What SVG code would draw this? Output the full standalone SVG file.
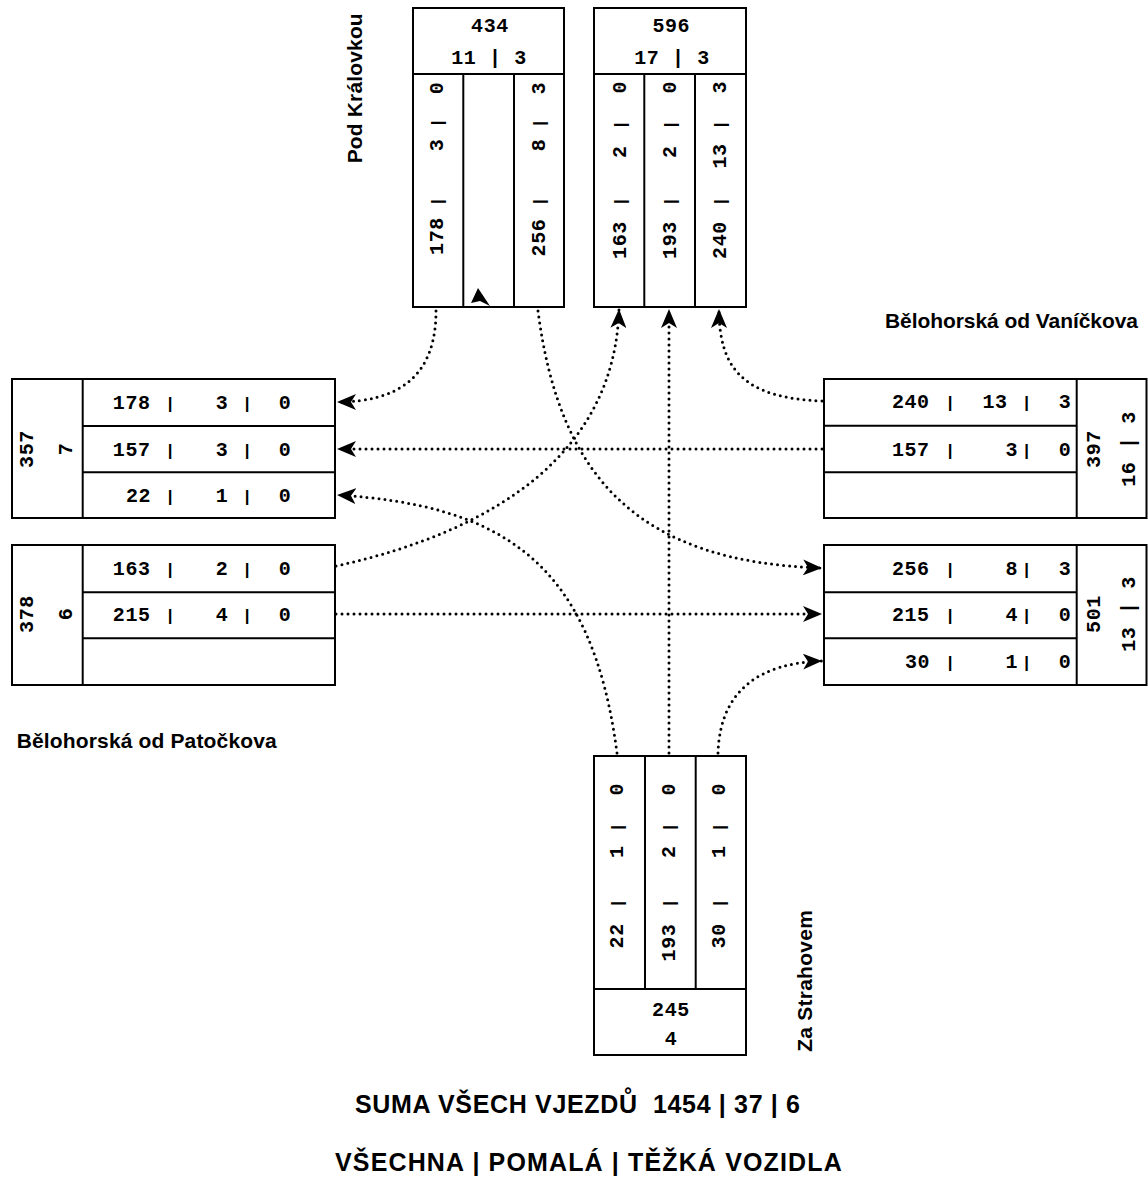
<svg xmlns="http://www.w3.org/2000/svg" width="1148" height="1188" viewBox="0 0 1148 1188">
<style>
.box{fill:#fff;stroke:#000;stroke-width:2}
.ln{stroke:#000;stroke-width:2;fill:none}
.n{font-family:"Liberation Mono","DejaVu Sans Mono",monospace;font-weight:bold;font-size:20px;letter-spacing:0.6px;text-anchor:middle;fill:#000}
.p{font-family:"Liberation Mono","DejaVu Sans Mono",monospace;font-weight:bold;font-size:17px;text-anchor:middle;fill:#000}
.lbl{font-family:"Liberation Sans",Arial,sans-serif;font-weight:bold;font-size:21px;fill:#000}
.big{font-size:25px}
.c{fill:none;stroke:#000;stroke-width:3;stroke-dasharray:0 6;stroke-linecap:round}
</style>
<defs>
<marker id="ah" viewBox="0 -8 19 16" refX="19" refY="0" markerWidth="19" markerHeight="16" markerUnits="userSpaceOnUse" orient="auto">
<path d="M0,-8 L19,0 L0,8 L5,0 Z" fill="#000"/>
</marker>
</defs>
<rect width="1148" height="1188" fill="#fff"/>

<g id="north-left">
<rect class="box" x="413" y="8" width="151" height="299"/>
<path class="ln" d="M413,74 H564 M463.3,74 V307 M514,74 V307"/>
<text class="n" x="490" y="32">434</text>
<text class="n" x="489" y="63.5">11 | 3</text>
<text class="n" transform="translate(436.7,236) rotate(-90)" y="6.5">178</text>
<text class="p" transform="translate(436.7,201.7) rotate(-90)" y="6.5">|</text>
<text class="n" transform="translate(436.7,145) rotate(-90)" y="6.5">3</text>
<text class="p" transform="translate(436.7,123) rotate(-90)" y="6.5">|</text>
<text class="n" transform="translate(436.7,88) rotate(-90)" y="6.5">0</text>
<text class="n" transform="translate(538.3,237.5) rotate(-90)" y="6.5">256</text>
<text class="p" transform="translate(538.3,201.7) rotate(-90)" y="6.5">|</text>
<text class="n" transform="translate(538.3,145) rotate(-90)" y="6.5">8</text>
<text class="p" transform="translate(538.3,123.3) rotate(-90)" y="6.5">|</text>
<text class="n" transform="translate(538.3,88.3) rotate(-90)" y="6.5">3</text>
</g>

<g id="north-right">
<rect class="box" x="594" y="8" width="152" height="299"/>
<path class="ln" d="M594,74 H746 M644.3,74 V307 M695,74 V307"/>
<text class="n" x="671.3" y="32">596</text>
<text class="n" x="672" y="64">17 | 3</text>
<text class="n" transform="translate(619.3,240) rotate(-90)" y="6.5">163</text>
<text class="p" transform="translate(619.3,201.7) rotate(-90)" y="6.5">|</text>
<text class="n" transform="translate(619.3,151.7) rotate(-90)" y="6.5">2</text>
<text class="p" transform="translate(619.3,125) rotate(-90)" y="6.5">|</text>
<text class="n" transform="translate(619.3,87.3) rotate(-90)" y="6.5">0</text>
<text class="n" transform="translate(669.3,240) rotate(-90)" y="6.5">193</text>
<text class="p" transform="translate(669.3,201.7) rotate(-90)" y="6.5">|</text>
<text class="n" transform="translate(669.3,151.7) rotate(-90)" y="6.5">2</text>
<text class="p" transform="translate(669.3,125) rotate(-90)" y="6.5">|</text>
<text class="n" transform="translate(669.3,87.3) rotate(-90)" y="6.5">0</text>
<text class="n" transform="translate(719.3,240) rotate(-90)" y="6.5">240</text>
<text class="p" transform="translate(719.3,201.7) rotate(-90)" y="6.5">|</text>
<text class="n" transform="translate(719.3,156) rotate(-90)" y="6.5">13</text>
<text class="p" transform="translate(719.3,125) rotate(-90)" y="6.5">|</text>
<text class="n" transform="translate(719.3,87.3) rotate(-90)" y="6.5">3</text>
</g>

<g id="west-upper">
<rect class="box" x="12" y="379" width="323" height="139"/>
<path class="ln" d="M82.7,379 V518 M82.7,426 H335 M82.7,472.3 H335"/>
<text class="n" transform="translate(26.7,449) rotate(-90)" y="6.5">357</text>
<text class="n" transform="translate(65,449) rotate(-90)" y="6.5">7</text>
<text class="n" x="131.7" y="408.8">178</text><text class="p" x="170" y="408.8">|</text><text class="n" x="222" y="408.8">3</text><text class="p" x="247" y="408.8">|</text><text class="n" x="285" y="408.8">0</text>
<text class="n" x="131.7" y="455.5">157</text><text class="p" x="170" y="455.5">|</text><text class="n" x="222" y="455.5">3</text><text class="p" x="247" y="455.5">|</text><text class="n" x="285" y="455.5">0</text>
<text class="n" x="138.5" y="501.5">22</text><text class="p" x="170" y="501.5">|</text><text class="n" x="222" y="501.5">1</text><text class="p" x="247" y="501.5">|</text><text class="n" x="285" y="501.5">0</text>
</g>

<g id="west-lower">
<rect class="box" x="12" y="545" width="323" height="140"/>
<path class="ln" d="M82.7,545 V685 M82.7,592.3 H335 M82.7,638.3 H335"/>
<text class="n" transform="translate(26.7,614) rotate(-90)" y="6.5">378</text>
<text class="n" transform="translate(65,614) rotate(-90)" y="6.5">6</text>
<text class="n" x="131.7" y="574.8">163</text><text class="p" x="170" y="574.8">|</text><text class="n" x="222" y="574.8">2</text><text class="p" x="247" y="574.8">|</text><text class="n" x="285" y="574.8">0</text>
<text class="n" x="131.7" y="620.8">215</text><text class="p" x="170" y="620.8">|</text><text class="n" x="222" y="620.8">4</text><text class="p" x="247" y="620.8">|</text><text class="n" x="285" y="620.8">0</text>
</g>

<g id="east-upper">
<rect class="box" x="824" y="379" width="322.5" height="139"/>
<path class="ln" d="M1076.7,379 V518 M824,425.7 H1076.7 M824,472.3 H1076.7"/>
<text class="n" x="910.8" y="408.2">240</text><text class="p" x="950" y="408.2">|</text><text class="n" x="995" y="408.2">13</text><text class="p" x="1026.7" y="408.2">|</text><text class="n" x="1065" y="408.2">3</text>
<text class="n" x="910.8" y="455.5">157</text><text class="p" x="950" y="455.5">|</text><text class="n" x="1011.7" y="455.5">3</text><text class="p" x="1026.7" y="455.5">|</text><text class="n" x="1065" y="455.5">0</text>
<text class="n" transform="translate(1093.3,449) rotate(-90)" y="6.5">397</text>
<text class="n" transform="translate(1128.3,449) rotate(-90)" y="6.5">16 | 3</text>
</g>

<g id="east-lower">
<rect class="box" x="824" y="545" width="322.5" height="140"/>
<path class="ln" d="M1076.7,545 V685 M824,592.3 H1076.7 M824,638.3 H1076.7"/>
<text class="n" x="910.8" y="574.8">256</text><text class="p" x="950" y="574.8">|</text><text class="n" x="1011.7" y="574.8">8</text><text class="p" x="1026.7" y="574.8">|</text><text class="n" x="1065" y="574.8">3</text>
<text class="n" x="910.8" y="620.8">215</text><text class="p" x="950" y="620.8">|</text><text class="n" x="1011.7" y="620.8">4</text><text class="p" x="1026.7" y="620.8">|</text><text class="n" x="1065" y="620.8">0</text>
<text class="n" x="917.5" y="667.5">30</text><text class="p" x="950" y="667.5">|</text><text class="n" x="1011.7" y="667.5">1</text><text class="p" x="1026.7" y="667.5">|</text><text class="n" x="1065" y="667.5">0</text>
<text class="n" transform="translate(1093.3,614) rotate(-90)" y="6.5">501</text>
<text class="n" transform="translate(1128.3,614) rotate(-90)" y="6.5">13 | 3</text>
</g>

<g id="south">
<rect class="box" x="594" y="756" width="152" height="299"/>
<path class="ln" d="M594,989 H746 M645,756 V989 M695.7,756 V989"/>
<text class="n" transform="translate(616.7,935.8) rotate(-90)" y="6.5">22</text>
<text class="p" transform="translate(616.7,903.3) rotate(-90)" y="6.5">|</text>
<text class="n" transform="translate(616.7,851.7) rotate(-90)" y="6.5">1</text>
<text class="p" transform="translate(616.7,827.3) rotate(-90)" y="6.5">|</text>
<text class="n" transform="translate(616.7,789.3) rotate(-90)" y="6.5">0</text>
<text class="n" transform="translate(668.3,942.5) rotate(-90)" y="6.5">193</text>
<text class="p" transform="translate(668.3,903.3) rotate(-90)" y="6.5">|</text>
<text class="n" transform="translate(668.3,851.7) rotate(-90)" y="6.5">2</text>
<text class="p" transform="translate(668.3,827.3) rotate(-90)" y="6.5">|</text>
<text class="n" transform="translate(668.3,789.3) rotate(-90)" y="6.5">0</text>
<text class="n" transform="translate(718.3,935.8) rotate(-90)" y="6.5">30</text>
<text class="p" transform="translate(718.3,903.3) rotate(-90)" y="6.5">|</text>
<text class="n" transform="translate(718.3,851.7) rotate(-90)" y="6.5">1</text>
<text class="p" transform="translate(718.3,827.3) rotate(-90)" y="6.5">|</text>
<text class="n" transform="translate(718.3,789.3) rotate(-90)" y="6.5">0</text>
<text class="n" x="671" y="1016">245</text>
<text class="n" x="671" y="1044.5">4</text>
</g>

<g id="labels">
<text class="lbl" transform="translate(361.7,88.3) rotate(-90)" text-anchor="middle" textLength="150" lengthAdjust="spacing">Pod Královkou</text>
<text class="lbl" transform="translate(812.3,981) rotate(-90)" text-anchor="middle" textLength="141.7" lengthAdjust="spacing">Za Strahovem</text>
<text class="lbl" x="885" y="328.3" textLength="253" lengthAdjust="spacing">Bělohorská od Vaníčkova</text>
<text class="lbl" x="16.7" y="748.3" textLength="260" lengthAdjust="spacing">Bělohorská od Patočkova</text>
<text class="lbl big" x="355" y="1112.5" textLength="445" lengthAdjust="spacing">SUMA VŠECH VJEZDŮ&#160; 1454 | 37 | 6</text>
<text class="lbl big" x="335" y="1170.5" textLength="506.7" lengthAdjust="spacing">VŠECHNA | POMALÁ | TĚŽKÁ VOZIDLA</text>
</g>

<g id="connectors">
<path class="c" d="M436,311 C436,375 400,402 337,402" marker-end="url(#ah)"/>
<path class="c" d="M538,311 C560,480 640,562 822,568" marker-end="url(#ah)"/>
<path class="c" d="M336,566 C500,530 615,450 619,309" marker-end="url(#ah)"/>
<path class="c" d="M669,753 L669,309" marker-end="url(#ah)"/>
<path class="c" d="M822,401 C745,398 719,370 719,309" marker-end="url(#ah)"/>
<path class="c" d="M822,449 L337,449" marker-end="url(#ah)"/>
<path class="c" d="M617,753 C592,560 500,505 337,495" marker-end="url(#ah)"/>
<path class="c" d="M718,753 C720,690 760,663 822,661" marker-end="url(#ah)"/>
<path class="c" d="M336,614 L822,614" marker-end="url(#ah)"/>
<polygon points="478,288 490,306 480,301 471,303" fill="#000"/>
</g>
</svg>
